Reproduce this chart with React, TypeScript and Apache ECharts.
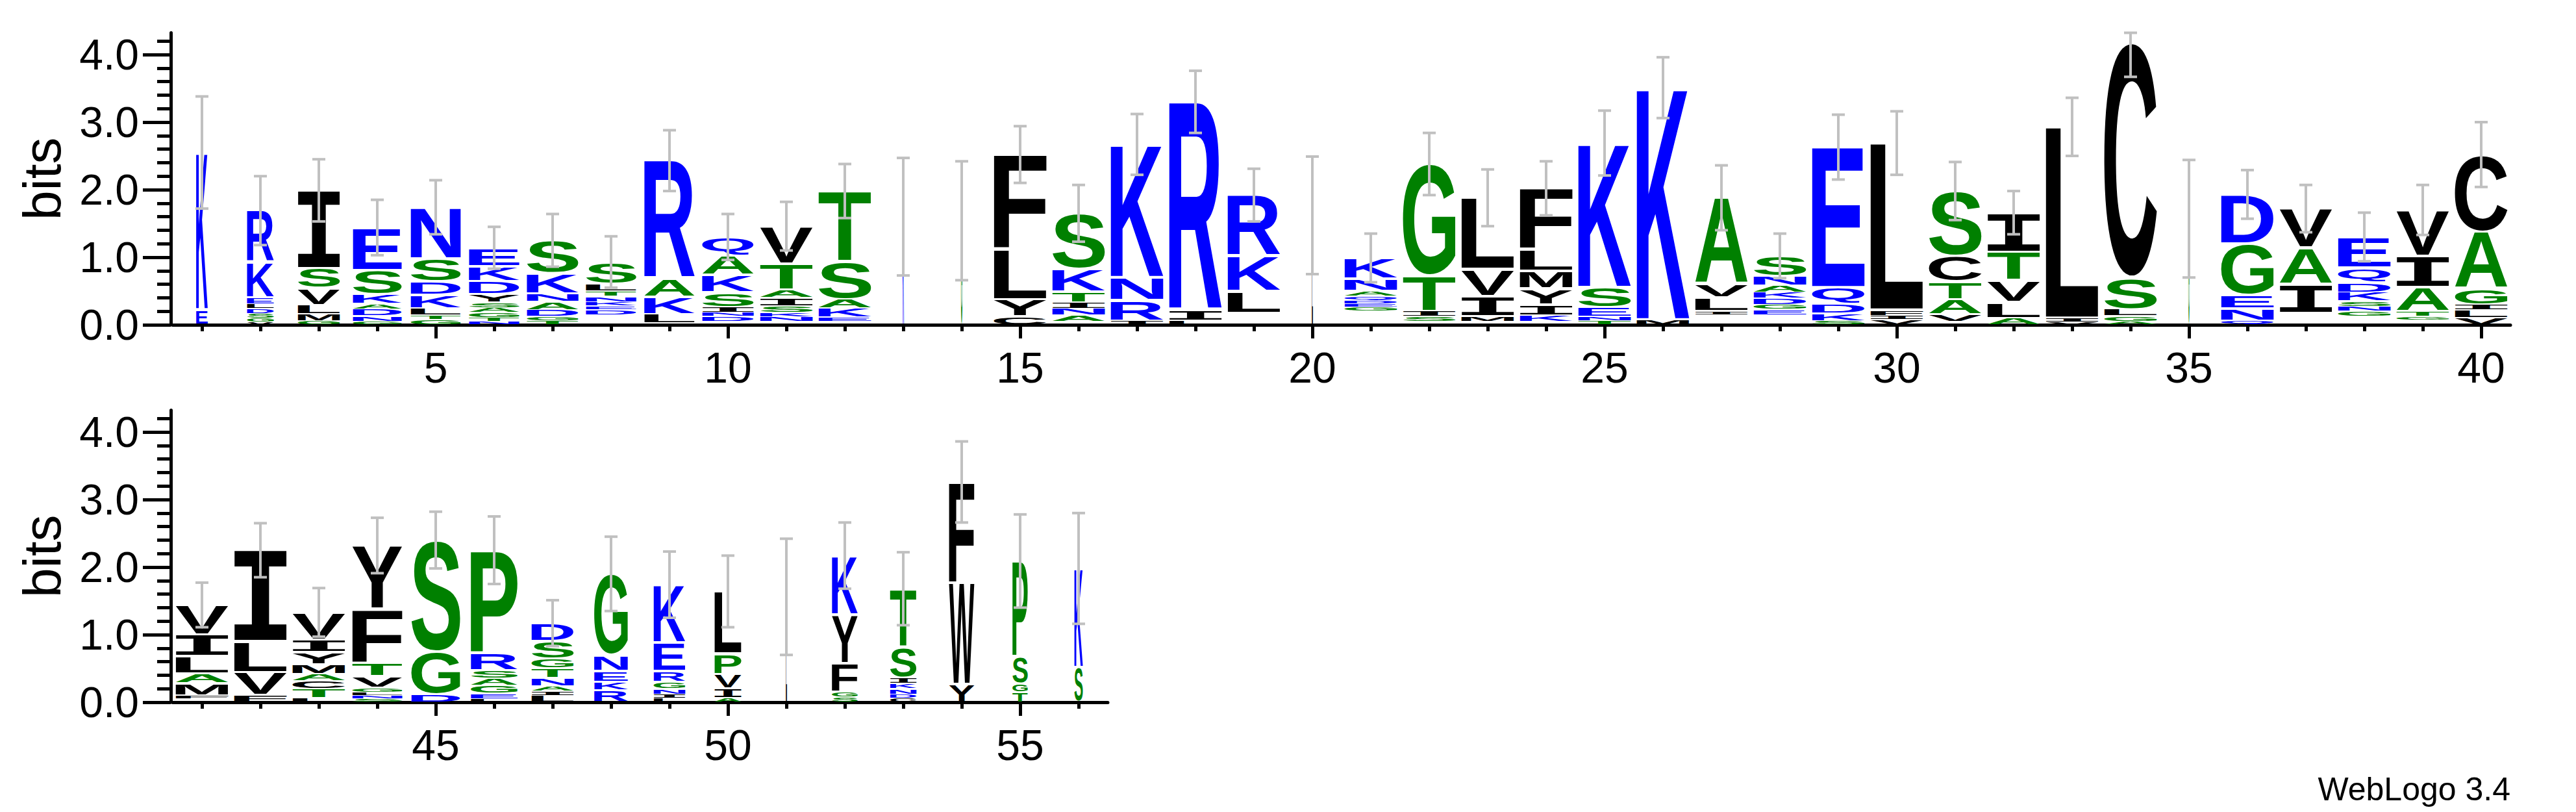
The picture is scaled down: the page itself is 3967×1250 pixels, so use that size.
import React, { useEffect, useRef } from 'react';
import * as echarts from 'echarts';

// ---------------- data ----------------
const POSITIONS = [
  1, 2, 3, 4, 5, 6, 7, 8, 9, 10, 11, 12, 13, 14, 15, 16, 17, 18, 19, 20,
  21, 22, 23, 24, 25, 26, 27, 28, 29, 30, 31, 32, 33, 34, 35, 36, 37, 38, 39, 40,
  41, 42, 43, 44, 45, 46, 47, 48, 49, 50, 51, 52, 53, 54, 55, 56,
];

// letters of each stack, bottom to top
const STACK_LETTERS = [
  'EK', 'VGSDLEKR', 'GMLVSI', 'GNDAKSE', 'GTLKDSN', 'NTGASYDKE', 'TGDANKS', 'WHMFYCDEKNTLS',
  'WLKAR', 'MWDNISKAQ', 'WHNKSIATV', 'WMEKAST', 'K', 'G', 'CYLF', 'WMANITKS',
  'IRNK', 'LIR', 'WMCYFHQLKR', 'L', 'WMFICYHVGEDQANK', 'WMSITG', 'WHMIVL', 'WHKIYMLF',
  'TNESK', 'MK', 'WHCYFNILVA', 'WMCYFIEGDKANS', 'SKDQE', 'VIFL', 'WHVATCS', 'ALVTI',
  'VIL', 'AGLSC', 'G', 'QNEGD', 'WMCYFHLIAV', 'WMCYFGNSKDQE', 'WMCGTAIV', 'VLIGAC',
  'WHFMALIV', 'FVLI', 'LTCAMYIV', 'SNLGVTFY', 'DGS', 'LEGASRP', 'LIANTGSD', 'RKENG',
  'LINGREK', 'AIVPL', 'L', 'SGFYK', 'CDNKIST', 'YWF', 'TGSP', 'SK',
];

// height (bits) of each letter, bottom to top
const STACK_HEIGHTS = [
  [0.22, 2.33],
  [0.04, 0.06, 0.07, 0.07, 0.07, 0.09, 0.52, 0.77],
  [0.06, 0.1, 0.13, 0.25, 0.3, 1.15],
  [0.05, 0.08, 0.1, 0.08, 0.14, 0.36, 0.63],
  [0.08, 0.06, 0.1, 0.2, 0.2, 0.34, 0.76],
  [0.05, 0.06, 0.07, 0.07, 0.08, 0.12, 0.2, 0.22, 0.27],
  [0.06, 0.06, 0.1, 0.12, 0.12, 0.3, 0.49],
  [0.025, 0.025, 0.025, 0.025, 0.025, 0.025, 0.08, 0.05, 0.06, 0.08, 0.08, 0.1, 0.33],
  [0.025, 0.13, 0.26, 0.27, 1.745],
  [0.025, 0.025, 0.08, 0.06, 0.07, 0.22, 0.26, 0.28, 0.28],
  [0.025, 0.025, 0.07, 0.06, 0.1, 0.12, 0.12, 0.38, 0.56],
  [0.025, 0.025, 0.06, 0.13, 0.14, 0.56, 1.04],
  [1.6],
  [1.54],
  [0.12, 0.26, 0.74, 1.4],
  [0.025, 0.025, 0.09, 0.1, 0.09, 0.16, 0.34, 0.82],
  [0.06, 0.3, 0.34, 1.97],
  [0.06, 0.15, 3.09],
  [0.025, 0.025, 0.025, 0.025, 0.025, 0.025, 0.025, 0.325, 0.52, 0.9],
  [1.62],
  [0.025, 0.025, 0.025, 0.025, 0.025, 0.025, 0.025, 0.025, 0.06, 0.05, 0.05, 0.06, 0.08, 0.18, 0.31],
  [0.025, 0.025, 0.08, 0.07, 0.52, 1.66],
  [0.025, 0.025, 0.07, 0.3, 0.4, 1.06],
  [0.025, 0.025, 0.09, 0.16, 0.24, 0.26, 0.32, 0.9],
  [0.06, 0.06, 0.14, 0.3, 2.13],
  [0.08, 3.43],
  [0.025, 0.025, 0.025, 0.025, 0.025, 0.025, 0.05, 0.2, 0.2, 1.28],
  [0.025, 0.025, 0.025, 0.025, 0.025, 0.025, 0.08, 0.07, 0.09, 0.09, 0.1, 0.14, 0.3],
  [0.06, 0.11, 0.14, 0.24, 2.08],
  [0.08, 0.06, 0.08, 2.47],
  [0.025, 0.025, 0.1, 0.23, 0.26, 0.38, 0.96],
  [0.1, 0.24, 0.32, 0.42, 0.58],
  [0.04, 0.06, 2.83],
  [0.05, 0.08, 0.1, 0.47, 3.47],
  [1.57],
  [0.06, 0.18, 0.2, 0.76, 0.73],
  [0.025, 0.025, 0.025, 0.025, 0.025, 0.025, 0.025, 0.425, 0.54, 0.58],
  [0.025, 0.025, 0.025, 0.025, 0.025, 0.075, 0.07, 0.08, 0.13, 0.14, 0.22, 0.46],
  [0.025, 0.025, 0.025, 0.05, 0.075, 0.36, 0.46, 0.68],
  [0.1, 0.12, 0.08, 0.24, 0.84, 1.14],
  [0.025, 0.025, 0.05, 0.18, 0.14, 0.26, 0.32, 0.44],
  [0.1, 0.34, 0.46, 1.35],
  [0.06, 0.14, 0.12, 0.1, 0.14, 0.18, 0.18, 0.41],
  [0.05, 0.05, 0.05, 0.06, 0.17, 0.2, 0.8, 0.94],
  [0.12, 0.63, 1.65],
  [0.05, 0.08, 0.12, 0.1, 0.12, 0.26, 1.52],
  [0.1, 0.06, 0.08, 0.12, 0.14, 0.14, 0.26, 0.27],
  [0.18, 0.12, 0.16, 0.24, 1.2],
  [0.06, 0.06, 0.08, 0.1, 0.16, 0.42, 0.86],
  [0.06, 0.14, 0.22, 0.3, 0.92],
  [1.56],
  [0.08, 0.08, 0.42, 0.72, 0.87],
  [0.06, 0.06, 0.08, 0.08, 0.08, 0.46, 0.86],
  [0.27, 1.5, 1.49],
  [0.15, 0.12, 0.41, 1.41],
  [0.52, 1.46],
];

// relative column width (fraction of sequences without a gap)
const COLUMN_WIDTH = [
  0.22, 0.51, 0.8, 0.93, 0.95, 0.96, 0.98, 0.96, 0.96, 0.98,
  1, 1, 0.025, 0.025, 1, 1, 1, 1, 1, 0.02,
  1, 1, 1, 1, 1, 1, 1, 1, 1, 1,
  1, 1, 1, 1, 0.02, 1, 1, 1, 1, 1,
  1, 1, 1, 0.95, 0.93, 0.89, 0.8, 0.64, 0.6, 0.51,
  0.02, 0.49, 0.5, 0.48, 0.29, 0.16,
];

// half length of the error bar (bits)
const ERROR_HALF = [
  0.83, 0.51, 0.46, 0.41, 0.4, 0.31, 0.39, 0.38, 0.45, 0.34,
  0.36, 0.4, 0.87, 0.88, 0.42, 0.42, 0.45, 0.46, 0.39, 0.87,
  0.36, 0.46, 0.42, 0.4, 0.48, 0.45, 0.48, 0.33, 0.48, 0.47,
  0.43, 0.32, 0.43, 0.5, 0.87, 0.36, 0.35, 0.36, 0.37, 0.48,
  0.33, 0.4, 0.36, 0.41, 0.42, 0.5, 0.34, 0.55, 0.49, 0.53,
  0.86, 0.49, 0.54, 0.6, 0.69, 0.82,
];

const Y_MAX = 4.3219;
const Y_MAJOR_TICKS = [0, 1, 2, 3, 4];
const Y_MINOR_TICKS = [0.2, 0.4, 0.6, 0.8, 1.2, 1.4, 1.6, 1.8, 2.2, 2.4, 2.6, 2.8, 3.2, 3.4, 3.6, 3.8, 4.2];
const X_LABELS_TOP = [5, 10, 15, 20, 25, 30, 35, 40];
const X_LABELS_BOTTOM = [45, 50, 55];
const ROW_SPLIT = 40;

const BLUE = '#0000ff';
const GREEN = '#008000';
const BLACK = '#000000';
const COLOR_OF: Record<string, string> = {
  R: BLUE, K: BLUE, D: BLUE, E: BLUE, N: BLUE, Q: BLUE,
  S: GREEN, G: GREEN, H: GREEN, T: GREEN, A: GREEN, P: GREEN,
  Y: BLACK, V: BLACK, M: BLACK, C: BLACK, L: BLACK, F: BLACK, I: BLACK, W: BLACK,
};

// ---------------- helpers ----------------
const FONT_PX = 200;
const LETTER_FONT = `bold ${FONT_PX}px "Liberation Sans"`;
const SERIF_I_FONT = `bold ${FONT_PX}px "DejaVu Sans Mono"`;
const AXIS_FONT = 'Liberation Sans';

function fontFor(ch: string) {
  return ch === 'I' ? SERIF_I_FONT : LETTER_FONT;
}

// distance from the SVG "central" baseline down to the alphabetic baseline
const shiftCache: Record<string, number> = {};
function centralShift(font: string) {
  if (shiftCache[font] === undefined) {
    const NS = 'http://www.w3.org/2000/svg';
    const svg = document.createElementNS(NS, 'svg') as SVGSVGElement;
    svg.setAttribute('width', '400');
    svg.setAttribute('height', '400');
    svg.setAttribute('style', 'position:absolute;left:-2000px;top:0;visibility:hidden');
    const mk = (db: string | null) => {
      const t = document.createElementNS(NS, 'text') as SVGTextElement;
      t.setAttribute('x', '0');
      t.setAttribute('y', '0');
      if (db) t.setAttribute('dominant-baseline', db);
      t.setAttribute('style', `font: ${font}`);
      t.textContent = 'H';
      svg.appendChild(t);
      return t;
    };
    const a = mk(null);
    const c = mk('central');
    document.body.appendChild(svg);
    const s = c.getBBox().y - a.getBBox().y;
    document.body.removeChild(svg);
    shiftCache[font] = s;
  }
  return shiftCache[font];
}

const metricCache: Record<string, { l: number; r: number; a: number; d: number }> = {};
function glyphBox(ch: string) {
  if (!metricCache[ch]) {
    const font = fontFor(ch);
    const ctx = document.createElement('canvas').getContext('2d')!;
    ctx.font = font;
    ctx.textBaseline = 'alphabetic';
    ctx.textAlign = 'left';
    const m = ctx.measureText(ch);
    const s = centralShift(font);
    metricCache[ch] = {
      l: m.actualBoundingBoxLeft,
      r: m.actualBoundingBoxRight,
      a: m.actualBoundingBoxAscent - s,
      d: m.actualBoundingBoxDescent + s,
    };
  }
  return metricCache[ch];
}

type LetterItem = { pos: number; y0: number; y1: number; wf: number; ch: string };
type ErrItem = { pos: number; c: number; e: number };

function buildItems(filter: (p: number) => boolean) {
  const letters: LetterItem[] = [];
  const errs: ErrItem[] = [];
  POSITIONS.forEach((pos, i) => {
    if (!filter(pos)) return;
    let acc = 0;
    STACK_LETTERS[i].split('').forEach((ch, j) => {
      const h = STACK_HEIGHTS[i][j];
      letters.push({ pos, y0: acc, y1: acc + h, wf: COLUMN_WIDTH[i], ch });
      acc += h;
    });
    errs.push({ pos, c: acc, e: ERROR_HALF[i] });
  });
  return { letters, errs };
}

function letterSeries(items: LetterItem[], axisIdx: number) {
  return {
    type: 'custom',
    xAxisIndex: axisIdx,
    yAxisIndex: axisIdx,
    z: 5,
    silent: true,
    data: items.map((d) => [d.pos, d.y0, d.y1]),
    encode: { x: 0, y: [1, 2] },
    renderItem: (params: any, api: any) => {
      const it = items[params.dataIndex];
      const half = 0.45 * it.wf;
      const tl = api.coord([it.pos - half, it.y1]);
      const br = api.coord([it.pos + half, it.y0]);
      let top = tl[1];
      let bottom = br[1];
      const left = tl[0];
      const right = br[0];
      const hpx = bottom - top;
      if (hpx < 3) return null;
      const inset = Math.min(2, hpx * 0.1);
      top += inset;
      bottom -= inset;
      const g = glyphBox(it.ch);
      const sx = (right - left) / (g.l + g.r);
      const sy = (bottom - top) / (g.a + g.d);
      return {
        type: 'text',
        x: left + g.l * sx,
        y: top + g.a * sy,
        scaleX: sx,
        scaleY: sy,
        silent: true,
        style: {
          text: it.ch,
          x: 0,
          y: 0,
          font: fontFor(it.ch),
          fill: COLOR_OF[it.ch] || BLACK,
          align: 'left',
          verticalAlign: 'middle',
          textAlign: 'left',
          textVerticalAlign: 'middle',
        },
      };
    },
  };
}

function errorSeries(items: ErrItem[], axisIdx: number) {
  return {
    type: 'custom',
    xAxisIndex: axisIdx,
    yAxisIndex: axisIdx,
    z: 10,
    silent: true,
    data: items.map((d) => [d.pos, d.c, d.e]),
    encode: { x: 0, y: 1 },
    renderItem: (params: any, api: any) => {
      const it = items[params.dataIndex];
      const lo = Math.max(0, it.c - it.e);
      const hi = Math.min(Y_MAX, it.c + it.e);
      const pt = api.coord([it.pos, hi]);
      const pb = api.coord([it.pos, lo]);
      const cw = 10;
      const style = { stroke: '#c0c0c0', lineWidth: 4, fill: null };
      return {
        type: 'group',
        children: [
          { type: 'line', shape: { x1: pt[0], y1: pt[1], x2: pb[0], y2: pb[1] }, style },
          { type: 'line', shape: { x1: pt[0] - cw, y1: pt[1], x2: pt[0] + cw, y2: pt[1] }, style },
          { type: 'line', shape: { x1: pb[0] - cw, y1: pb[1], x2: pb[0] + cw, y2: pb[1] }, style },
        ],
      };
    },
  };
}

function xAxes(gridIndex: number, min: number, max: number, labels: number[], ticks: number[]) {
  return [
    {
      gridIndex,
      type: 'value',
      position: 'bottom',
      min,
      max,
      axisLine: { show: true, onZero: false, lineStyle: { color: BLACK, width: 5 } },
      axisTick: { show: true, customValues: labels, length: 21, lineStyle: { color: BLACK, width: 5 } },
      axisLabel: {
        show: true,
        customValues: labels,
        margin: 33,
        fontSize: 66,
        fontFamily: AXIS_FONT,
        color: BLACK,
      },
      splitLine: { show: false },
    },
    {
      gridIndex,
      type: 'value',
      position: 'bottom',
      min,
      max,
      axisLine: { show: false, onZero: false },
      axisTick: { show: true, customValues: ticks, length: 10, lineStyle: { color: BLACK, width: 5 } },
      axisLabel: { show: false },
      splitLine: { show: false },
    },
  ];
}

function yAxes(gridIndex: number) {
  return [
    {
      gridIndex,
      type: 'value',
      position: 'left',
      offset: 3,
      min: 0,
      max: Y_MAX,
      name: 'bits',
      nameLocation: 'middle',
      nameRotate: 90,
      nameGap: 158,
      nameMoveOverlap: false,
      nameTextStyle: { fontSize: 82, fontFamily: AXIS_FONT, color: BLACK },
      axisLine: { show: true, onZero: false, lineStyle: { color: BLACK, width: 5 } },
      axisTick: { show: true, customValues: Y_MAJOR_TICKS, length: 43, lineStyle: { color: BLACK, width: 5 } },
      axisLabel: {
        show: true,
        customValues: Y_MAJOR_TICKS,
        formatter: (v: number) => v.toFixed(1),
        margin: 49,
        fontSize: 66,
        fontFamily: AXIS_FONT,
        color: BLACK,
      },
      splitLine: { show: false },
    },
    {
      gridIndex,
      type: 'value',
      position: 'left',
      offset: 3,
      min: 0,
      max: Y_MAX,
      axisLine: { show: false, onZero: false },
      axisTick: { show: true, customValues: Y_MINOR_TICKS, length: 21, lineStyle: { color: BLACK, width: 5 } },
      axisLabel: { show: false },
      splitLine: { show: false },
    },
  ];
}

export default function App() {
  const ref = useRef<HTMLDivElement>(null);
  useEffect(() => {
    if (!ref.current) return;
    const chart = echarts.init(ref.current, null, { renderer: 'svg' });
    const topRow = buildItems((p) => p <= ROW_SPLIT);
    const bottomRow = buildItems((p) => p > ROW_SPLIT);
    const topTicks = POSITIONS.filter((p) => p <= ROW_SPLIT);
    const bottomTicks = POSITIONS.filter((p) => p > ROW_SPLIT);
    const option: any = {
      animation: false,
      backgroundColor: '#ffffff',
      grid: [
        { left: 266, top: 50.5, width: 3600, height: 449.5, containLabel: false, outerBoundsMode: 'none' },
        { left: 266, top: 631.5, width: 1440, height: 449.5, containLabel: false, outerBoundsMode: 'none' },
      ],
      xAxis: [
        ...xAxes(0, 0.5, 40.5, X_LABELS_TOP, topTicks),
        ...xAxes(1, 40.5, 56.5, X_LABELS_BOTTOM, bottomTicks),
      ],
      yAxis: [...yAxes(0), ...yAxes(1)],
      series: [
        letterSeries(topRow.letters, 0),
        errorSeries(topRow.errs, 0),
        letterSeries(bottomRow.letters, 2),
        errorSeries(bottomRow.errs, 2),
      ],
      graphic: [
        {
          type: 'text',
          x: 3866,
          y: 1215,
          style: {
            text: 'WebLogo 3.4',
            font: '50px "Liberation Sans"',
            fill: BLACK,
            align: 'right',
            verticalAlign: 'middle',
            textAlign: 'right',
            textVerticalAlign: 'middle',
          },
        },
      ],
    };
    chart.setOption(option);
    return () => chart.dispose();
  }, []);
  return (
    <div
      ref={ref}
      style={{ position: 'fixed', left: 0, top: 0, width: 3967, height: 1250, background: '#ffffff' }}
    />
  );
}
